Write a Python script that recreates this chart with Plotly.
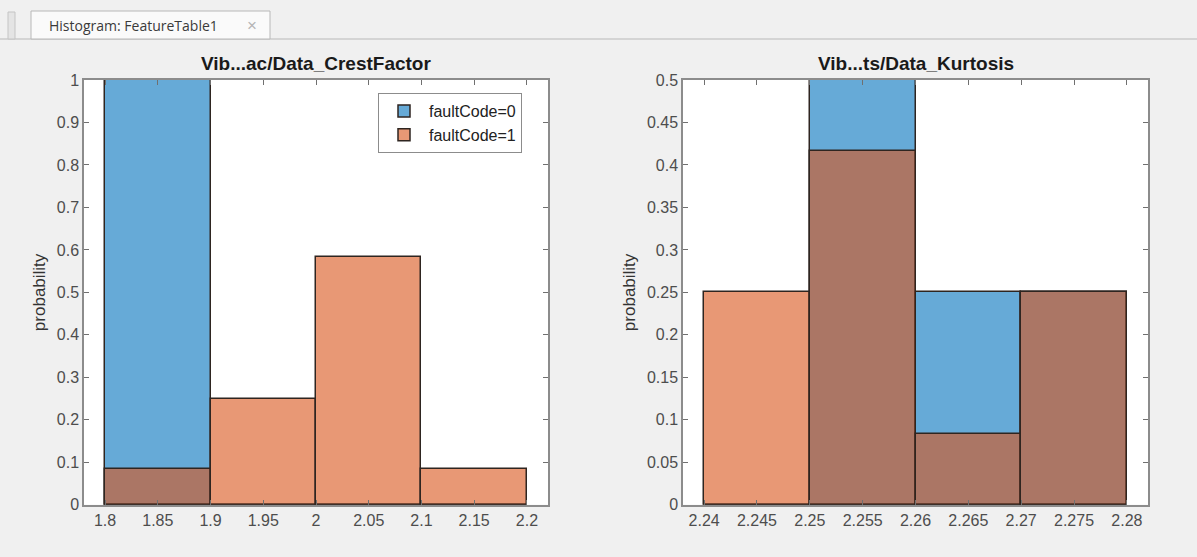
import plotly.graph_objects as go

W, H = 1197, 557

# ---- data ----
crest_edges = [1.8, 1.9, 2.0, 2.1, 2.2]
crest_fault0 = [1.0, 0.0, 0.0, 0.0]
crest_fault1 = [0.0833, 0.25, 0.5833, 0.0833]

kurt_edges = [2.24, 2.25, 2.26, 2.27, 2.28]
kurt_fault0 = [0.0, 0.5, 0.25, 0.25]
kurt_fault1 = [0.25, 0.4167, 0.0833, 0.25]

series_names = ["faultCode=0", "faultCode=1"]
titles = ["Vib...ac/Data_CrestFactor", "Vib...ts/Data_Kurtosis"]
crest_xticks = [1.8, 1.85, 1.9, 1.95, 2.0, 2.05, 2.1, 2.15, 2.2]
crest_xlabels = ["1.8", "1.85", "1.9", "1.95", "2", "2.05", "2.1", "2.15", "2.2"]
kurt_xticks = [2.24, 2.245, 2.25, 2.255, 2.26, 2.265, 2.27, 2.275, 2.28]
kurt_xlabels = ["2.24", "2.245", "2.25", "2.255", "2.26", "2.265", "2.27", "2.275", "2.28"]
crest_yticks = [0, 0.1, 0.2, 0.3, 0.4, 0.5, 0.6, 0.7, 0.8, 0.9, 1]
kurt_yticks = [0, 0.05, 0.1, 0.15, 0.2, 0.25, 0.3, 0.35, 0.4, 0.45, 0.5]

BLUE = "rgba(0,114,189,0.6)"
ORANGE = "rgba(217,83,25,0.6)"
EDGE = "#2e2520"

# screen placement: the page is photographed with a small vertical offset/scale
Y_OFF, Y_SCALE = 7.0, 0.969


def px(x):
    return x / W


def py(y):
    return 1 - ((y - Y_OFF) / Y_SCALE) / H


def centers(edges):
    return [(a + b) / 2 for a, b in zip(edges[:-1], edges[1:])]


def widths(edges):
    return [b - a for a, b in zip(edges[:-1], edges[1:])]


fig = go.Figure()

for edges, f0, f1, xa, ya, showleg in [
    (crest_edges, crest_fault0, crest_fault1, "x", "y", True),
    (kurt_edges, kurt_fault0, kurt_fault1, "x2", "y2", False),
]:
    fig.add_trace(go.Bar(
        x=centers(edges), y=f0, width=widths(edges), name=series_names[0],
        marker=dict(color=BLUE, line=dict(color=EDGE, width=1.5)),
        xaxis=xa, yaxis=ya, showlegend=showleg,
    ))
    fig.add_trace(go.Bar(
        x=centers(edges), y=f1, width=widths(edges), name=series_names[1],
        marker=dict(color=ORANGE, line=dict(color=EDGE, width=1.5)),
        xaxis=xa, yaxis=ya, showlegend=showleg,
    ))

FONT = "Arial, Liberation Sans, sans-serif"
tickfont = dict(family=FONT, size=16, color="#4d4d4d")
axis_common = dict(
    showline=True, linecolor="#8c8c8c", linewidth=1.5, mirror="ticks",
    ticks="inside", ticklen=5, tickcolor="#707070", tickwidth=1.2, showgrid=False,
    zeroline=False, tickfont=tickfont,
)
ytitle = dict(text="probability", font=dict(size=17, color="#333", family=FONT), standoff=7)

ydom = [py(503.5), py(79)]

fig.update_layout(
    width=W, height=H,
    margin=dict(l=0, r=0, t=0, b=0),
    paper_bgcolor="#f0f0f0", plot_bgcolor="white",
    barmode="overlay", bargap=0,
    font=dict(family=FONT),
    xaxis=dict(domain=[px(84), px(548)], range=[1.78, 2.22],
               tickvals=crest_xticks, ticktext=crest_xlabels, anchor="y", **axis_common),
    yaxis=dict(domain=ydom, range=[0, 1], tickvals=crest_yticks,
               ticktext=[("%g" % v) for v in crest_yticks], anchor="x",
               title=ytitle, **axis_common),
    xaxis2=dict(domain=[px(683), px(1148)], range=[2.238, 2.282],
                tickvals=kurt_xticks, ticktext=kurt_xlabels, anchor="y2", **axis_common),
    yaxis2=dict(domain=ydom, range=[0, 0.5], tickvals=kurt_yticks,
                ticktext=[("%g" % v) for v in kurt_yticks], anchor="x2",
                title=ytitle, **axis_common),
    legend=dict(x=px(378), y=py(92), xanchor="left", yanchor="top",
                bgcolor="white", bordercolor="#8c8c8c", borderwidth=1,
                font=dict(size=16, color="#222", family=FONT), itemwidth=40, tracegroupgap=0),
)

# titles
for t, xc in zip(titles, [316, 916]):
    fig.add_annotation(x=px(xc), y=py(62), xref="paper", yref="paper", text="<b>%s</b>" % t,
                       showarrow=False, font=dict(size=19, color="#1a1a1a", family=FONT),
                       xanchor="center", yanchor="middle")

# tab header
shapes = [
    dict(type="line", xref="paper", yref="paper", x0=0, x1=1, y0=py(38), y1=py(38),
         line=dict(color="#b8b8b8", width=1)),
    dict(type="rect", xref="paper", yref="paper", x0=px(8), x1=px(15), y0=py(38), y1=py(11),
         line=dict(color="#c4c4c4", width=1), fillcolor="#e4e4e4"),
    dict(type="rect", xref="paper", yref="paper", x0=px(31), x1=px(270), y0=py(38), y1=py(10),
         line=dict(color="#b8b8b8", width=1), fillcolor="#fafafa"),
]
fig.update_layout(shapes=shapes)
fig.add_annotation(x=px(47), y=py(24), xref="paper", yref="paper", text="Histogram: FeatureTable1",
                   showarrow=False, xanchor="left", yanchor="middle",
                   font=dict(size=14, color="#3a3a3a", family="Open Sans, Noto Sans, sans-serif"))
fig.add_annotation(x=px(252), y=py(24), xref="paper", yref="paper", text="×",
                   showarrow=False, xanchor="center", yanchor="middle",
                   font=dict(size=17, color="#b5b5b5"))

post = (
    "var d=document.getElementById('{plot_id}');"
    "document.documentElement.style.cssText='margin:0;padding:0;background:#f0f0f0;overflow:hidden';"
    "document.body.style.cssText='margin:0;padding:0;background:#f0f0f0;overflow:hidden';"
    "if(d){d.style.display='block';d.parentElement.style.cssText='margin:0;padding:0;line-height:0;font-size:0';}"
)

fig.write_html("out.html", config={"displayModeBar": False}, post_script=post)
